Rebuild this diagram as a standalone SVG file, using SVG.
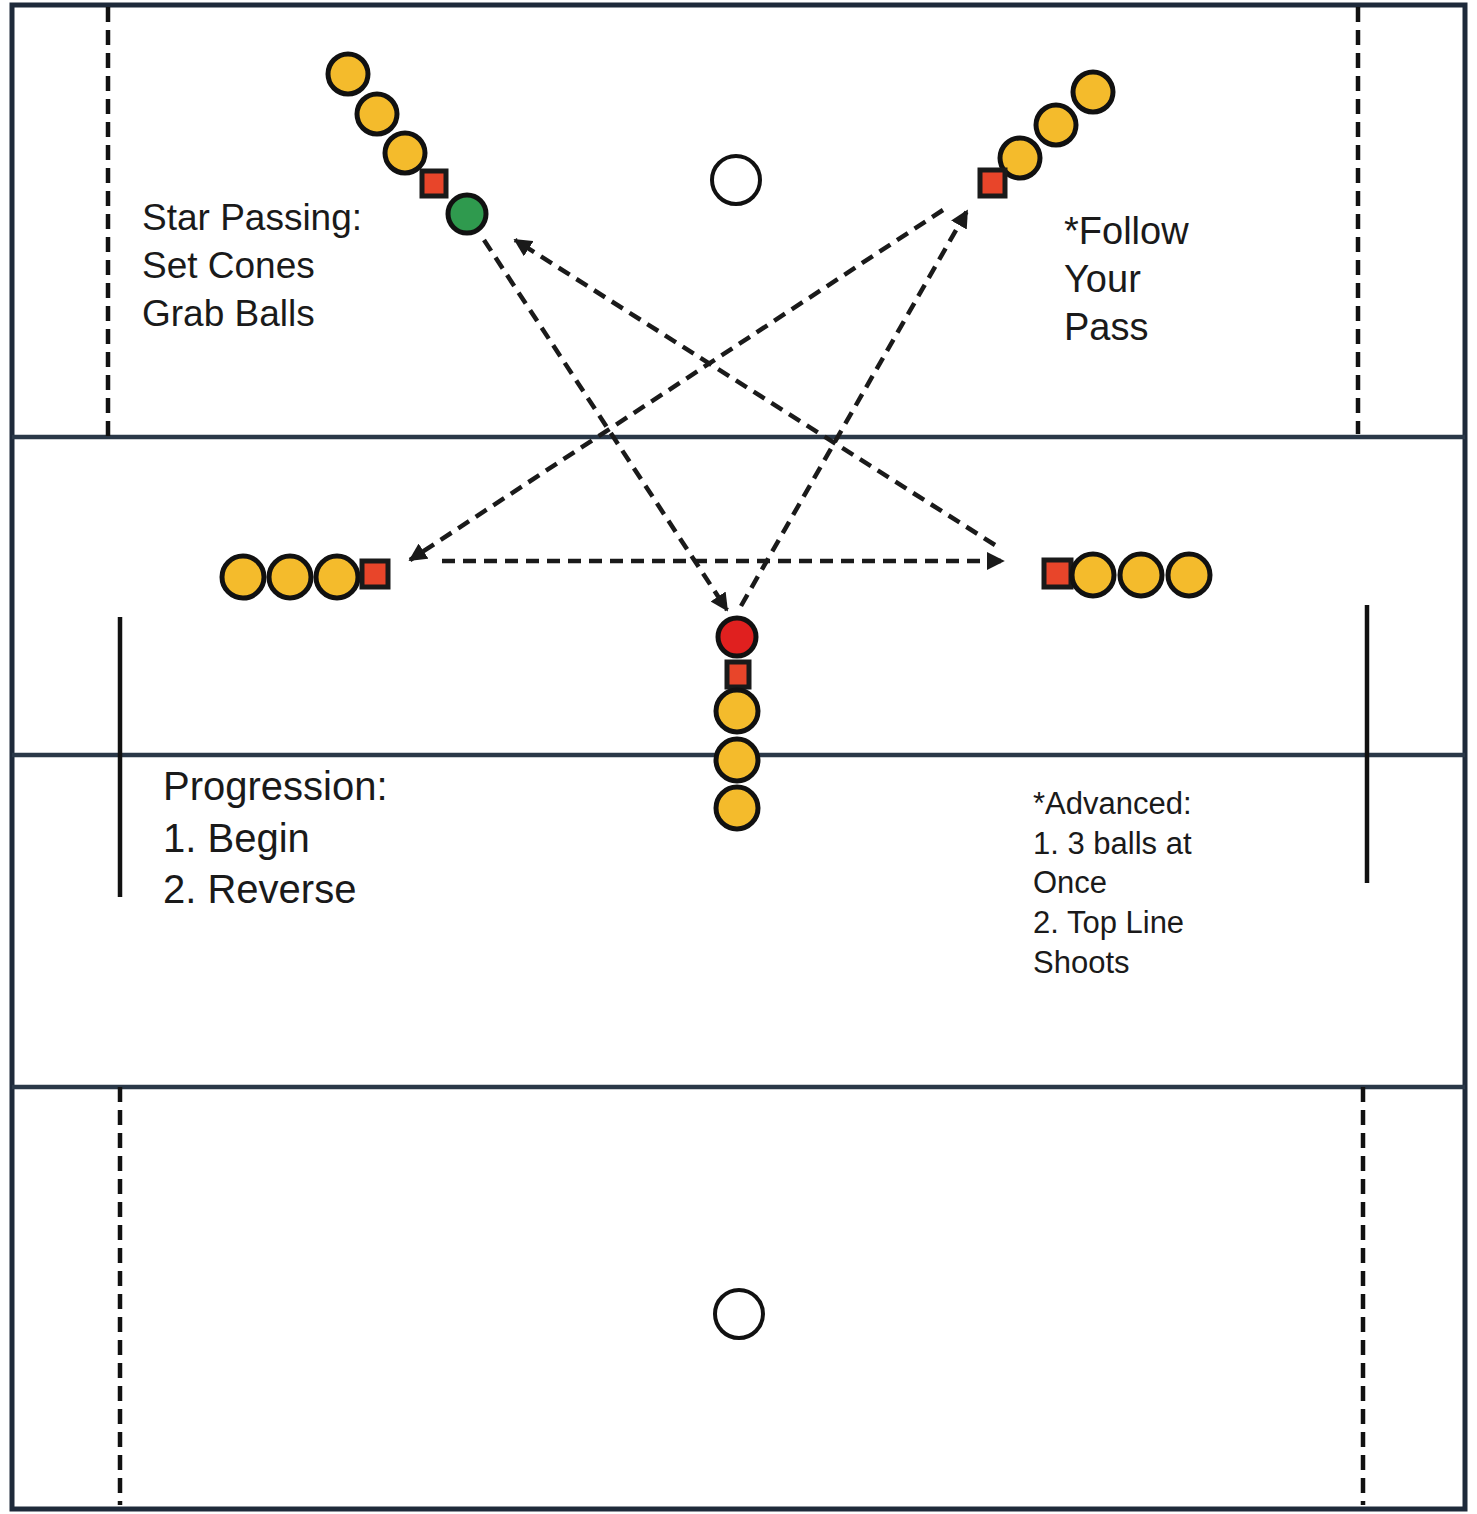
<svg xmlns="http://www.w3.org/2000/svg" width="1477" height="1514" viewBox="0 0 1477 1514">
<style>
.field{fill:none;stroke:#1e2a3a;stroke-width:5}
.hl{stroke:#2a3848;stroke-width:4.5}
.dl{stroke:#111;stroke-width:4.5;stroke-dasharray:15 8}
.sl{stroke:#111;stroke-width:4.5}
.goal{fill:#fff;stroke:#111;stroke-width:4}
.ball{fill:#f4bb2c;stroke:#111;stroke-width:5}
.cone{fill:#e8452a;stroke:#1a1a1a;stroke-width:5}
.pass{stroke:#1a1a1a;stroke-width:4.5;stroke-dasharray:13 8;fill:none}
text{font-family:"Liberation Sans",Arial,sans-serif;fill:#1a1a1a}
</style>
<defs>
<marker id="ah" viewBox="0 0 10 10" refX="9" refY="5" markerWidth="4" markerHeight="4" orient="auto" markerUnits="strokeWidth">
<path d="M0,0 L10,5 L0,10 z" fill="#1a1a1a"/>
</marker>
</defs>
<rect x="0" y="0" width="1477" height="1514" fill="#fff"/>
<g id="field">
<rect class="field" x="12" y="5" width="1453" height="1504"/>
<line class="hl" x1="12" y1="437" x2="1465" y2="437"/>
<line class="hl" x1="12" y1="755" x2="1465" y2="755"/>
<line class="hl" x1="12" y1="1087" x2="1465" y2="1087"/>
<line class="dl" x1="108" y1="7" x2="108" y2="437"/>
<line class="dl" x1="1358" y1="7" x2="1358" y2="434"/>
<line class="dl" x1="120" y1="1087" x2="120" y2="1505"/>
<line class="dl" x1="1363" y1="1087" x2="1363" y2="1505"/>
<line class="sl" x1="120" y1="617" x2="120" y2="897"/>
<line class="sl" x1="1367" y1="605" x2="1367" y2="883"/>
</g>
<g id="goal-top"><circle class="goal" cx="736" cy="180" r="24"/></g>
<g id="goal-bottom"><circle class="goal" cx="739" cy="1314" r="24"/></g>
<g id="connectors">
<line class="pass" x1="484" y1="240" x2="727" y2="610" marker-end="url(#ah)"/>
<line class="pass" x1="741" y1="606" x2="967" y2="211" marker-end="url(#ah)"/>
<line class="pass" x1="943" y1="210" x2="410" y2="560" marker-end="url(#ah)"/>
<line class="pass" x1="442" y1="561" x2="1003" y2="561" marker-end="url(#ah)"/>
<line class="pass" x1="995" y1="545" x2="515" y2="240" marker-end="url(#ah)"/>
</g>
<g id="group-top-left">
<circle class="ball" cx="348" cy="74" r="20"/>
<circle class="ball" cx="377" cy="114" r="20"/>
<circle class="ball" cx="405" cy="153" r="20"/>
<rect class="cone" x="422" y="171" width="24" height="25"/>
<circle class="ball" style="fill:#2f9a4e" cx="467" cy="214" r="19"/>
</g>
<g id="group-top-right">
<circle class="ball" cx="1093" cy="92" r="20"/>
<circle class="ball" cx="1056" cy="125" r="20"/>
<circle class="ball" cx="1020" cy="158" r="20"/>
<rect class="cone" x="980" y="170" width="25" height="26"/>
</g>
<g id="group-left">
<circle class="ball" cx="243" cy="577" r="21"/>
<circle class="ball" cx="290" cy="577" r="21"/>
<circle class="ball" cx="337" cy="577" r="21"/>
<rect class="cone" x="362" y="561" width="26" height="26"/>
</g>
<g id="group-right">
<rect class="cone" x="1044" y="560" width="27" height="27"/>
<circle class="ball" cx="1093" cy="575" r="21"/>
<circle class="ball" cx="1141" cy="575" r="21"/>
<circle class="ball" cx="1189" cy="575" r="21"/>
</g>
<g id="group-center">
<circle class="ball" style="fill:#e0201f" cx="737" cy="637" r="19"/>
<rect class="cone" x="727" y="662" width="22" height="25"/>
<circle class="ball" cx="737" cy="711" r="21"/>
<circle class="ball" cx="737" cy="760" r="21"/>
<circle class="ball" cx="737" cy="808" r="21"/>
</g>
<g id="label-star" font-size="37">
<text x="142" y="230">Star Passing:</text>
<text x="142" y="278">Set Cones</text>
<text x="142" y="326">Grab Balls</text>
</g>
<g id="label-follow" font-size="38">
<text x="1064" y="244">*Follow</text>
<text x="1064" y="292">Your</text>
<text x="1064" y="340">Pass</text>
</g>
<g id="label-progression" font-size="40">
<text x="163" y="800">Progression:</text>
<text x="163" y="852">1. Begin</text>
<text x="163" y="903">2. Reverse</text>
</g>
<g id="label-advanced" font-size="31">
<text x="1033" y="814">*Advanced:</text>
<text x="1033" y="854">1. 3 balls at</text>
<text x="1033" y="893">Once</text>
<text x="1033" y="933">2. Top Line</text>
<text x="1033" y="973">Shoots</text>
</g>
</svg>
